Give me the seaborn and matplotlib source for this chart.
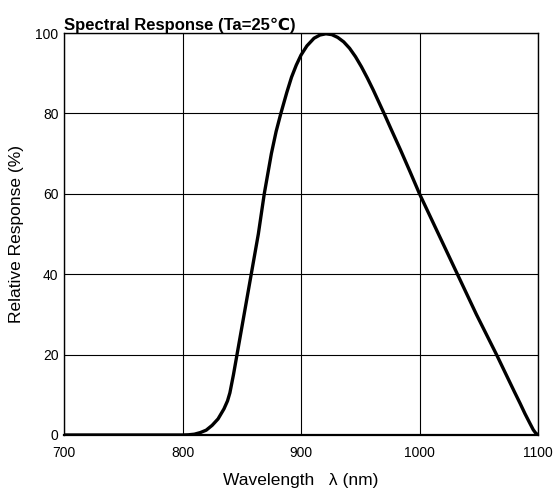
import numpy as np
import pandas as pd
import matplotlib
matplotlib.use("Agg")
import matplotlib.pyplot as plt
import seaborn as sns

# Values (nm, % relative response)
wavelength = [700, 750, 800, 805, 810, 815, 820, 825, 830, 835, 838, 840, 843,
              846, 852, 858, 864, 869, 875, 879, 883, 888, 892, 896, 900,
              905, 911, 916, 921, 926, 931, 936, 941, 946, 951, 956, 961,
              966, 971, 976, 984, 992, 1000, 1016, 1032, 1048, 1065, 1072,
              1080, 1085, 1089, 1093, 1096, 1098, 1100]
response = [0, 0, 0, 0.05, 0.2, 0.6, 1.2, 2.4, 4, 6.5, 8.5, 10.5, 15,
            20, 30, 40, 50, 60, 70, 75.5, 80, 85.2, 89, 92, 94.5,
            96.8, 98.7, 99.5, 99.8, 99.6, 98.9, 97.8, 96.2, 94.1, 91.6, 88.8, 85.8,
            82.6, 79.4, 76.1, 70.9, 65.5, 60, 50, 40, 30, 20, 15.7,
            10.8, 7.8, 5.3, 3.0, 1.3, 0.5, 0]

x_ticks = [700, 800, 900, 1000, 1100]
y_ticks = [0, 20, 40, 60, 80, 100]

df = pd.DataFrame({"wl": wavelength, "resp": response})

sns.set_theme(style="white")
plt.rcParams['font.family'] = ['Liberation Sans', 'DejaVu Sans']

fig = plt.figure(figsize=(5.54, 4.96), dpi=100)
ax = fig.add_axes([64 / 554, 61 / 496, 474 / 554, 402 / 496])

sns.lineplot(data=df, x="wl", y="resp", ax=ax, color="black", linewidth=2.4)

ax.set_xlim(700, 1100)
ax.set_ylim(0, 100)
ax.set_xticks(x_ticks)
ax.set_yticks(y_ticks)
ax.grid(True, color="black", linewidth=0.8)
ax.tick_params(axis="both", length=0, labelsize=10, colors="black")
ax.tick_params(axis="x", pad=8)
ax.tick_params(axis="y", pad=4)
for s in ax.spines.values():
    s.set_color("black")
    s.set_linewidth(1.0)
ax.spines["bottom"].set_linewidth(1.6)

ax.set_xlabel("Wavelength   λ (nm)", fontsize=12.5, color="black", labelpad=9)
ax.set_ylabel("Relative Response (%)", fontsize=12.5, color="black", labelpad=8)
ax.set_title("Spectral Response (Ta=25℃)", loc="left", fontsize=12,
             fontweight="bold", color="black", pad=2)

fig.savefig("out.png", dpi=100)
